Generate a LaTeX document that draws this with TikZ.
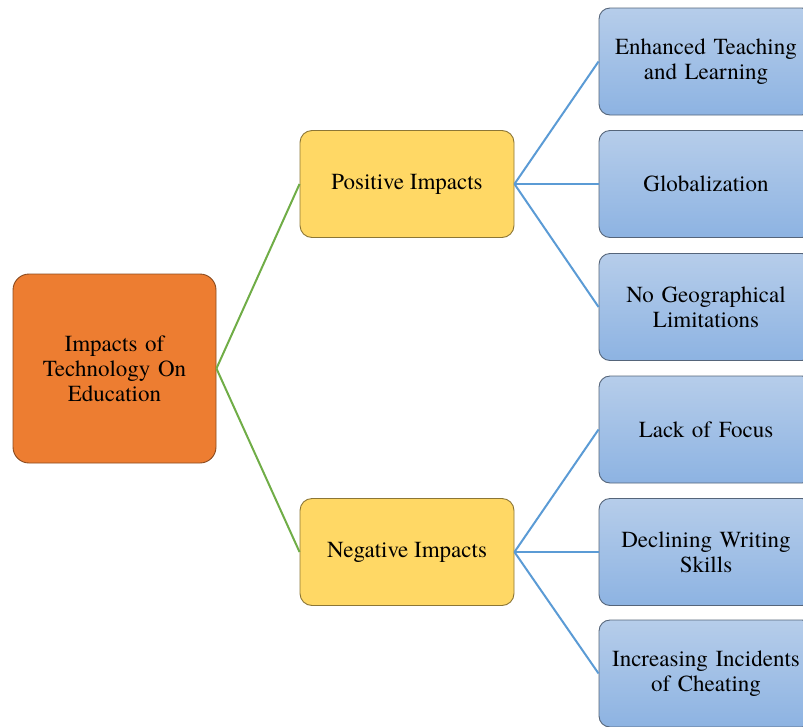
\documentclass[tikz,border=0pt]{standalone}
\usepackage{fontspec}
\setmainfont{texgyretermes-regular.otf}
\newfontfamily\boxfont{texgyretermes-regular.otf}
\definecolor{rootfill}{HTML}{ED7D31}
\definecolor{rootline}{HTML}{8A4A1E}
\definecolor{midfill}{HTML}{FFD865}
\definecolor{midline}{HTML}{8C7635}
\definecolor{leaftop}{HTML}{B6CDEA}
\definecolor{leafbot}{HTML}{8DB3E2}
\definecolor{leafline}{HTML}{55657A}
\definecolor{greenlink}{HTML}{70AD47}
\definecolor{bluelink}{HTML}{5B9BD5}
\tikzset{
  box/.style={rounded corners=11pt, minimum width=214pt, minimum height=107pt,
    align=center, font=\boxfont\fontsize{23}{25}\selectfont, inner sep=2pt, line width=0.9pt},
  rootbox/.style={box, fill=rootfill, draw=rootline, minimum width=203pt,
    minimum height=189pt, rounded corners=16pt, text width=190pt},
  midbox/.style={box, fill=midfill, draw=midline, rounded corners=12pt},
  leafbox/.style={box, top color=leaftop, bottom color=leafbot, draw=leafline, text width=205pt},
  glink/.style={draw=greenlink, line width=2pt},
  blink/.style={draw=bluelink, line width=2pt},
}
\begin{document}
\begin{tikzpicture}[x=1pt, y=-1pt]
  \useasboundingbox (0,0) rectangle (803,726);
  \begin{scope}
    \clip (0,0) rectangle (803,726);
    % root and branches
    \node[rootbox] (root) at (114.5,368.5) {Impacts of\\Technology On\\Education};
    \node[midbox] (pos) at (407,184) {Positive Impacts};
    \node[midbox] (neg) at (407,552) {Negative Impacts};
    % leaves
    \node[leafbox] (l1) at (706,61.5) {Enhanced Teaching\\and Learning};
    \node[leafbox] (l2) at (706,184) {Globalization};
    \node[leafbox] (l3) at (706,307) {No Geographical\\Limitations};
    \node[leafbox] (l4) at (706,429.5) {Lack of Focus};
    \node[leafbox] (l5) at (706,552) {Declining Writing\\Skills};
    \node[leafbox] (l6) at (706,673.5) {Increasing Incidents\\of Cheating};
    % connectors
    \draw[glink] (root.east) -- (pos.west);
    \draw[glink] (root.east) -- (neg.west);
    \foreach \l in {l1,l2,l3} \draw[blink] (pos.east) -- (\l.west);
    \foreach \l in {l4,l5,l6} \draw[blink] (neg.east) -- (\l.west);
  \end{scope}
\end{tikzpicture}
\end{document}
